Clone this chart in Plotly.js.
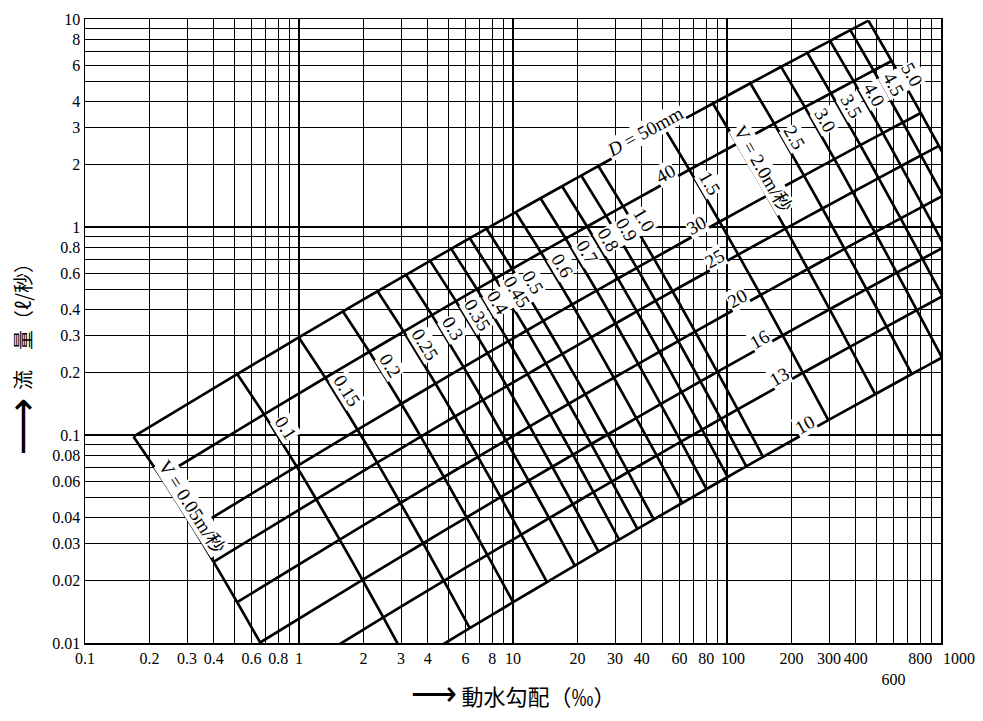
<!DOCTYPE html>
<html><head><meta charset="utf-8">
<script src="https://cdn.plot.ly/plotly-3.0.1.min.js"></script>
<style>html,body{margin:0;padding:0;background:#fff}#chart{width:983px;height:721px}</style>
</head><body><div id="chart"></div>
<script>
// Nomograph grid: pipe diameters (mm) and flow velocities (m/s)
const diameters = [50, 40, 30, 25, 20, 16, 13, 10];
const diameterLabels = ['<i>D</i> = 50mm', '40', '30', '25', '20', '16', '13', '10'];
const velocities = [0.05, 0.1, 0.15, 0.2, 0.25, 0.3, 0.35, 0.4, 0.45, 0.5, 0.6, 0.7, 0.8, 0.9, 1.0, 1.5, 2.0, 2.5, 3.0, 3.5, 4.0, 4.5, 5.0];
const velocityLabels = ['V = 0.05m/秒', '0.1', '0.15', '0.2', '0.25', '0.3', '0.35', '0.4', '0.45', '0.5', '0.6', '0.7', '0.8', '0.9', '1.0', '1.5', 'V = 2.0m/秒', '2.5', '3.0', '3.5', '4.0', '4.5', '5.0'];

// Axis ticks / grid
const xGrid = [0.1,0.2,0.3,0.4,0.5,0.6,0.7,0.8,0.9,1,2,3,4,5,6,7,8,9,10,20,30,40,50,60,70,80,90,100,200,300,400,500,600,700,800,900,1000];
const xLabels = ['0.1','0.2','0.3','0.4','','0.6','','0.8','','1','2','3','4','','6','','8','','10','20','30','40','','60','','80','','','200','300','400','','\u00a0<br>600','','800','',''];
const xShiftedLabels = ['100', '1000'];   // drawn just right of their grid lines
const xShiftedVals = [100, 1000];
const yGrid = [0.01,0.02,0.03,0.04,0.05,0.06,0.07,0.08,0.09,0.1,0.2,0.3,0.4,0.5,0.6,0.7,0.8,0.9,1,2,3,4,5,6,7,8,9,10];
const yLabels = ['0.01','0.02','0.03','0.04','','0.06','','0.08','','0.1','0.2','0.3','0.4','','0.6','','0.8','','1','2','3','4','','6','','8','','10'];
const xTitle = '<span style="font-size:32px">⟶</span> 動水勾配（‰）';
const yTitleArrow = '⟶';
const yTitle = '流　量（ℓ/秒）';

// Weston formula (the chart's relation between D, V, gradient and flow)
function gradient(dmm, v) { // per mille
  const d = dmm / 1000;
  const lam = 0.0126 + (0.01739 - 0.1087 * d) / Math.sqrt(v);
  return 1000 * lam / d * v * v / (2 * 9.8);
}
function flow(dmm, v) { // litre / s
  const d = dmm / 1000;
  return 1000 * v * Math.PI * d * d / 4;
}

const W = 983, H = 721;
const M = {l: 85, r: 42, t: 19, b: 78};
const PW = W - M.l - M.r, PH = H - M.t - M.b;
const kx = PW / 4, ky = PH / 3;
function angleBetween(i1, q1, i2, q2) {
  const dx = kx * (Math.log10(i2) - Math.log10(i1));
  const dy = -ky * (Math.log10(q2) - Math.log10(q1));
  return Math.atan2(dy, dx) * 180 / Math.PI;
}

const lineStyle = {color: '#000', width: 2.7, shape: 'spline', smoothing: 0.5};
const traces = [];
diameters.forEach(d => {
  traces.push({type: 'scatter', mode: 'lines', hoverinfo: 'skip',
    x: velocities.map(v => gradient(d, v)), y: velocities.map(v => flow(d, v)), line: lineStyle});
});
velocities.forEach(v => {
  traces.push({type: 'scatter', mode: 'lines', hoverinfo: 'skip',
    x: diameters.map(d => gradient(d, v)), y: diameters.map(d => flow(d, v)), line: lineStyle});
});

const serif = 'Liberation Serif, Noto Sans CJK JP, serif';
const annotations = [];
function addLabel(text, i, q, ang, off, size) {
  const r = ang * Math.PI / 180;
  annotations.push({x: Math.log10(i), y: Math.log10(q), xref: 'x', yref: 'y', text: text,
    showarrow: false, textangle: ang, bgcolor: '#fff', borderpad: 0,
    xshift: off * Math.sin(r), yshift: off * Math.cos(r),
    font: {family: serif, size: size || 19, color: '#000'}});
}
velocities.forEach((v, k) => {
  let dl = 36;
  if (k === 0) dl = 33;
  if (v === 2.0) dl = 34;
  const ang = angleBetween(gradient(40, v), flow(40, v), gradient(30, v), flow(30, v));
  addLabel(velocityLabels[k], gradient(dl, v), flow(dl, v), ang, (k === 0 || v === 2.0) ? 10 : 11);
});
diameters.forEach((d, k) => {
  const vl = k === 0 ? 1.36 : 1.33;
  const ang = angleBetween(gradient(d, 1.0), flow(d, 1.0), gradient(d, 1.5), flow(d, 1.5));
  addLabel(diameterLabels[k], gradient(d, vl), flow(d, vl), ang, 8);
});
// x tick labels set off to the right of their grid lines, as in the reference
xShiftedVals.forEach((xv, k) => {
  annotations.push({x: Math.log10(xv), xref: 'x', y: 0, yref: 'paper', xanchor: 'center', yanchor: 'top',
    xshift: k === 0 ? 6 : 18, yshift: -5, showarrow: false, text: xShiftedLabels[k],
    font: {family: serif, size: 16, color: '#000'}});
});
// y-axis title (rotated annotations: arrow + text)
annotations.push({xref: 'paper', yref: 'paper', x: (22 - M.l) / PW, y: (H - M.b - 427) / PH,
  xanchor: 'center', yanchor: 'middle', showarrow: false, textangle: -90, text: yTitleArrow,
  font: {family: 'DejaVu Sans, sans-serif', size: 40, color: '#000'}});
annotations.push({xref: 'paper', yref: 'paper', x: (22 - M.l) / PW, y: (H - M.b - 322) / PH,
  xanchor: 'center', yanchor: 'middle', showarrow: false, textangle: -90, text: yTitle,
  font: {family: 'Noto Sans CJK JP, sans-serif', size: 20, color: '#000'}});

const axisCommon = {type: 'log', showgrid: true, gridcolor: '#000', gridwidth: 1.1,
  ticks: '', showline: true, mirror: true, linecolor: '#000', linewidth: 1.5,
  zeroline: false, automargin: false, fixedrange: true, tickangle: 0,
  tickfont: {family: serif, size: 16, color: '#000'}};

const layout = {
  width: W, height: H, margin: M, paper_bgcolor: '#fff', plot_bgcolor: '#fff',
  showlegend: false,
  xaxis: Object.assign({}, axisCommon, {range: [-1, 3], tickvals: xGrid, ticktext: xLabels,
    title: {text: xTitle, standoff: 3,
      font: {family: 'Noto Sans CJK JP, sans-serif', size: 22, color: '#000'}}}),
  yaxis: Object.assign({}, axisCommon, {range: [-2, 1], tickvals: yGrid, ticktext: yLabels}),
  annotations: annotations
};

Plotly.newPlot('chart', traces, layout, {staticPlot: true, displayModeBar: false});
</script>
</body></html>
